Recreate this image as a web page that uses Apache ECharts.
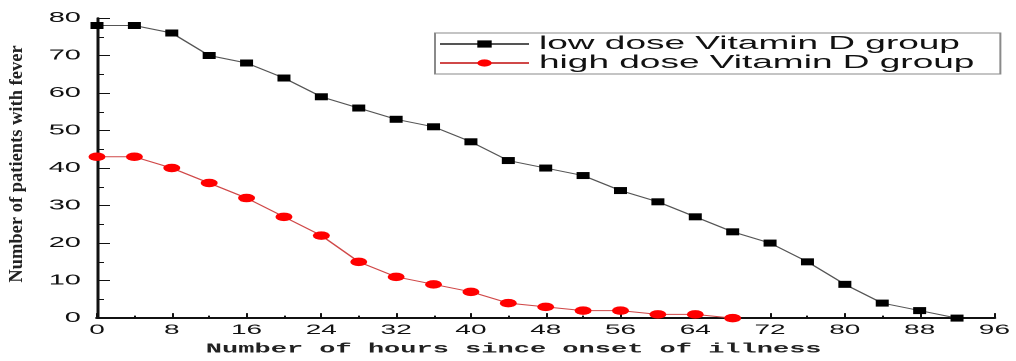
<!DOCTYPE html>
<html>
<head>
<meta charset="utf-8">
<script src="https://cdn.jsdelivr.net/npm/echarts@6/dist/echarts.min.js"></script>
<style>
  html, body { margin: 0; padding: 0; background: #fff; overflow: hidden; }
  #chart { width: 508px; height: 361px; transform: scaleX(2); transform-origin: 0 0; }
</style>
</head>
<body>
<div id="chart"></div>
<script>
// Data
const hoursLow = [0, 4, 8, 12, 16, 20, 24, 28, 32, 36, 40, 44, 48, 52, 56, 60, 64, 68, 72, 76, 80, 84, 88, 92];
const lowDose  = [78, 78, 76, 70, 68, 64, 59, 56, 53, 51, 47, 42, 40, 38, 34, 31, 27, 23, 20, 15, 9, 4, 2, 0];
const hoursHigh = [0, 4, 8, 12, 16, 20, 24, 28, 32, 36, 40, 44, 48, 52, 56, 60, 64, 68];
const highDose  = [43, 43, 40, 36, 32, 27, 22, 15, 11, 9, 7, 4, 3, 2, 2, 1, 1, 0];
const seriesNames = ['low dose Vitamin D group', 'high dose Vitamin D group'];
const xTitle = 'Number of hours since onset of illness';
const yTitle = 'Number of patients with fever';

const lowPairs = hoursLow.map((h, i) => [h, lowDose[i]]);
const highPairs = hoursHigh.map((h, i) => [h, highDose[i]]);

const chart = echarts.init(document.getElementById('chart'), null, { devicePixelRatio: 2 });
chart.setOption({
  backgroundColor: '#fff',
  animation: false,
  grid: { left: 48.5, right: 10.5, top: 18, bottom: 41 },
  legend: {
    orient: 'vertical',
    left: 217.5,
    top: 33,
    itemWidth: 44.5,
    itemHeight: 9,
    itemGap: 0,
    padding: [1.5, 13, 1.5, 1.5],
    borderColor: '#8a8a8a',
    borderWidth: 1,
    textStyle: { fontFamily: 'Liberation Sans, Arial, sans-serif', fontSize: 18.5, color: '#111', lineHeight: 19 },
    data: seriesNames
  },
  xAxis: {
    type: 'value',
    min: 0, max: 96, interval: 8,
    name: xTitle,
    nameLocation: 'middle',
    nameGap: 21,
    nameTextStyle: { fontFamily: 'Liberation Mono, Courier New, monospace', fontWeight: 'bold', fontSize: 13.5, color: '#222', padding: [0, 32, 0, 0] },
    axisLine: { lineStyle: { color: '#111', width: 2 } },
    axisTick: { inside: true, length: 5, lineStyle: { color: '#111', width: 1 } },
    minorTick: { show: true, splitNumber: 2, length: 2.5, lineStyle: { color: '#111', width: 1 } },
    axisLabel: { fontFamily: 'Liberation Sans, Arial, sans-serif', fontSize: 14, color: '#111', margin: 5 },
    splitLine: { show: false }
  },
  yAxis: {
    type: 'value',
    min: 0, max: 80, interval: 10,
    axisLine: { show: true, lineStyle: { color: '#111', width: 1.5 } },
    axisTick: { show: true, inside: true, length: 6.5, lineStyle: { color: '#111', width: 1 } },
    minorTick: { show: true, splitNumber: 2, length: 3.5, lineStyle: { color: '#111', width: 1 } },
    axisLabel: { fontFamily: 'Liberation Sans, Arial, sans-serif', fontSize: 14.5, color: '#111', margin: 8 },
    splitLine: { show: false }
  },
  graphic: [{
    type: 'text',
    x: 8.5,
    y: 164,
    rotation: Math.PI / 2,
    scaleY: 0.5,
    style: {
      text: yTitle,
      font: 'bold 18.5px "Liberation Serif", "Times New Roman", serif',
      fill: '#222',
      align: 'center',
      verticalAlign: 'middle'
    }
  }],
  series: [
    {
      name: seriesNames[0],
      type: 'line',
      data: lowPairs,
      symbol: 'rect',
      symbolSize: [6.5, 7],
      itemStyle: { color: '#000' },
      lineStyle: { color: '#555', width: 1 },
      z: 3
    },
    {
      name: seriesNames[1],
      type: 'line',
      data: highPairs,
      symbol: 'circle',
      symbolSize: [8.5, 8.5],
      itemStyle: { color: '#ff0000' },
      lineStyle: { color: '#d04848', width: 1 },
      z: 3
    }
  ]
});
</script>
</body>
</html>
